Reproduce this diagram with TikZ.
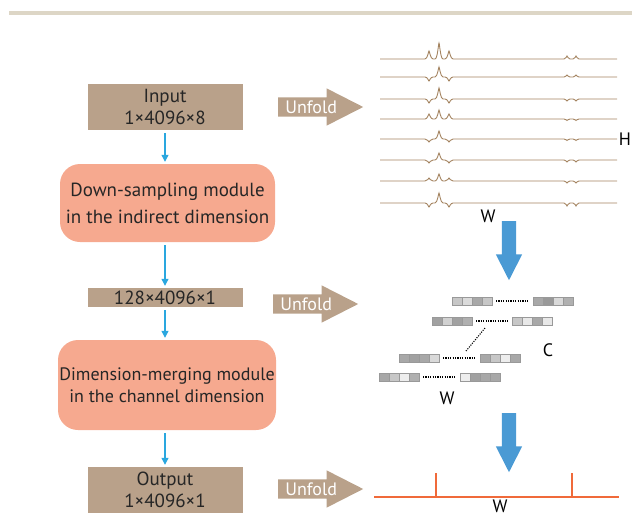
\documentclass[tikz,border=0pt]{standalone}
\usepackage{fontspec}
\setmainfont{PT Sans}
\usetikzlibrary{positioning,arrows.meta,shapes.arrows}
\definecolor{boxtan}{HTML}{B9A18A}
\definecolor{modsalmon}{HTML}{F6A98F}
\definecolor{flowblue}{HTML}{2AA7DF}
\definecolor{bigblue}{HTML}{4A9AD4}
\definecolor{specbrown}{HTML}{A3835F}
\definecolor{outred}{HTML}{F06A3A}
\definecolor{topbar}{HTML}{DDD6C6}
\definecolor{txtdark}{HTML}{262626}

% one row of the stacked spectra: y, side peaks, centre peak, right pair
\newcommand{\specline}[4]{%
  \begin{scope}[shift={(0,#1)}, y=1pt]
    \draw[spec] (380,0) -- (425,0)
      .. controls (427.5,0) and (428.5,#2) .. (429,#2)
      .. controls (429.5,#2) and (430.5,0) .. (433,0)
      -- (435,0)
      .. controls (437.5,0) and (438.5,#3) .. (439,#3)
      .. controls (439.5,#3) and (440.5,0) .. (443,0)
      -- (445,0)
      .. controls (447.5,0) and (448.5,#2) .. (449,#2)
      .. controls (449.5,#2) and (450.5,0) .. (453,0)
      -- (564,0)
      .. controls (566,0) and (566.5,#4) .. (567,#4)
      .. controls (567.5,#4) and (568,0) .. (570,0)
      -- (573,0)
      .. controls (575,0) and (575.5,#4) .. (576,#4)
      .. controls (576.5,#4) and (577,0) .. (579,0)
      -- (617,0);
  \end{scope}}

\begin{document}
\begin{tikzpicture}[
    x=1pt, y=-1pt,
    every node/.style={font=\fontsize{19}{22}\selectfont, text=txtdark},
    databox/.style={fill=boxtan, minimum width=155, inner sep=0pt, align=center},
    module/.style={fill=modsalmon, rounded corners=20pt, inner sep=0pt, align=center},
    flow/.style={draw=flowblue, line width=1.2pt, -{Triangle[length=7pt,width=7pt]},
                 shorten <=3pt, shorten >=2pt},
    unfold/.style={single arrow, fill=boxtan, text=white, minimum height=85,
                   font=\fontsize{18}{18}\selectfont,
                   single arrow head extend=9, single arrow tip angle=54,
                   single arrow head indent=0, inner xsep=4pt, inner ysep=3pt,
                   text height=13pt, text depth=0pt},
    bigarrow/.style={single arrow, fill=bigblue, minimum height=59, inner sep=7pt,
                     single arrow head extend=6, single arrow tip angle=54,
                     shape border rotate=270},
    spec/.style={draw=specbrown, line width=0.9pt},
    cell/.style={draw=black!40, line width=0.4pt},
    dots/.style={line width=1.1pt, dash pattern=on 1.1pt off 1.3pt},
    axis/.style={font=\fontsize{18}{18}\selectfont, text=black}
  ]
  \useasboundingbox (0,0) rectangle (632,517);
  \fill[topbar] (9,11) rectangle (632,15);

  % Left column
  \node[databox, minimum height=46] (inp) at (165,107) {Input\\1×4096×8};
  \node[module, minimum width=215, minimum height=78,
        font=\fontsize{19}{27}\selectfont] (ds) at (167.5,203)
        {Down-sampling module\\in the indirect dimension};
  \node[databox, minimum height=19] (mid) at (165,297.5) {128×4096×1};
  \node[module, minimum width=218, minimum height=90,
        font=\fontsize{18}{22}\selectfont] (dm) at (167,385)
        {Dimension-merging module\\in the channel dimension};
  \node[databox, minimum height=46] (out) at (165,490) {Output\\1×4096×1};

  \draw[flow] (inp.south) -- (inp.south |- ds.north);
  \draw[flow] (ds.south -| inp.south) -- (mid.north);
  \draw[flow] (mid.south) -- (mid.south |- dm.north);
  \draw[flow] (dm.south -| out.north) -- (out.north);

  % Unfold arrows
  \node[unfold, anchor=tail] (unf1) at (278,107) {Unfold};
  \node[unfold, anchor=tail] (unf2) at (273,304) {Unfold};
  \node[unfold, anchor=tail] (unf3) at (278,489) {Unfold};

  % Stacked spectra
  \specline{59}{8}{16}{3}
  \specline{77}{-4}{10}{2}
  \specline{99}{-4}{11}{-2}
  \specline{119}{5}{9}{-1.5}
  \specline{139}{-3}{8}{-1.5}
  \specline{160}{-3}{7}{-2}
  \specline{181}{3}{7}{-2}
  \specline{203}{-4}{10}{-3}
  \node[axis] (labH) at (625,139) {H};
  \node[axis] (labWa) at (488,216) {W};

  \node[bigarrow, anchor=tail] (down1) at (509,221) {};

  % Channel blocks
  \foreach \ry/\lx/\rx/\shades [count=\i] in {
    301/452/533/{22,14,34,22,34,40,15,31},
    321/432/512/{37,18,37,31,22,9,34,9},
    358/399/480/{34,37,34,15,34,22,7,34},
    377/379/460/{34,22,7,31,7,37,34,34}%
  }{
    \foreach \s [count=\j] in \shades {
      \pgfmathsetmacro\cx{\j<5 ? \lx+(\j-1)*10 : \rx+(\j-5)*10}
      \draw[cell, fill=black!\s] (\cx,\ry-4) rectangle ++(10,8);
    }
    \draw[dots] (\lx+44,\ry) -- (\rx-4,\ry);
  }
  \draw[dots] (485,328) -- (466,351);
  \node[axis] (labC) at (548,350) {C};
  \node[axis] (labWb) at (447,398) {W};

  \node[bigarrow, anchor=tail] (down2) at (509,413) {};

  % Output spectrum
  \draw[outred, line width=1.2pt] (374,497) -- (436,497) -- (436,473)
    (436,497) -- (572,497) -- (572,473) (572,497) -- (619,497);
  \node[axis] (labWc) at (500,506) {W};
\end{tikzpicture}
\end{document}
